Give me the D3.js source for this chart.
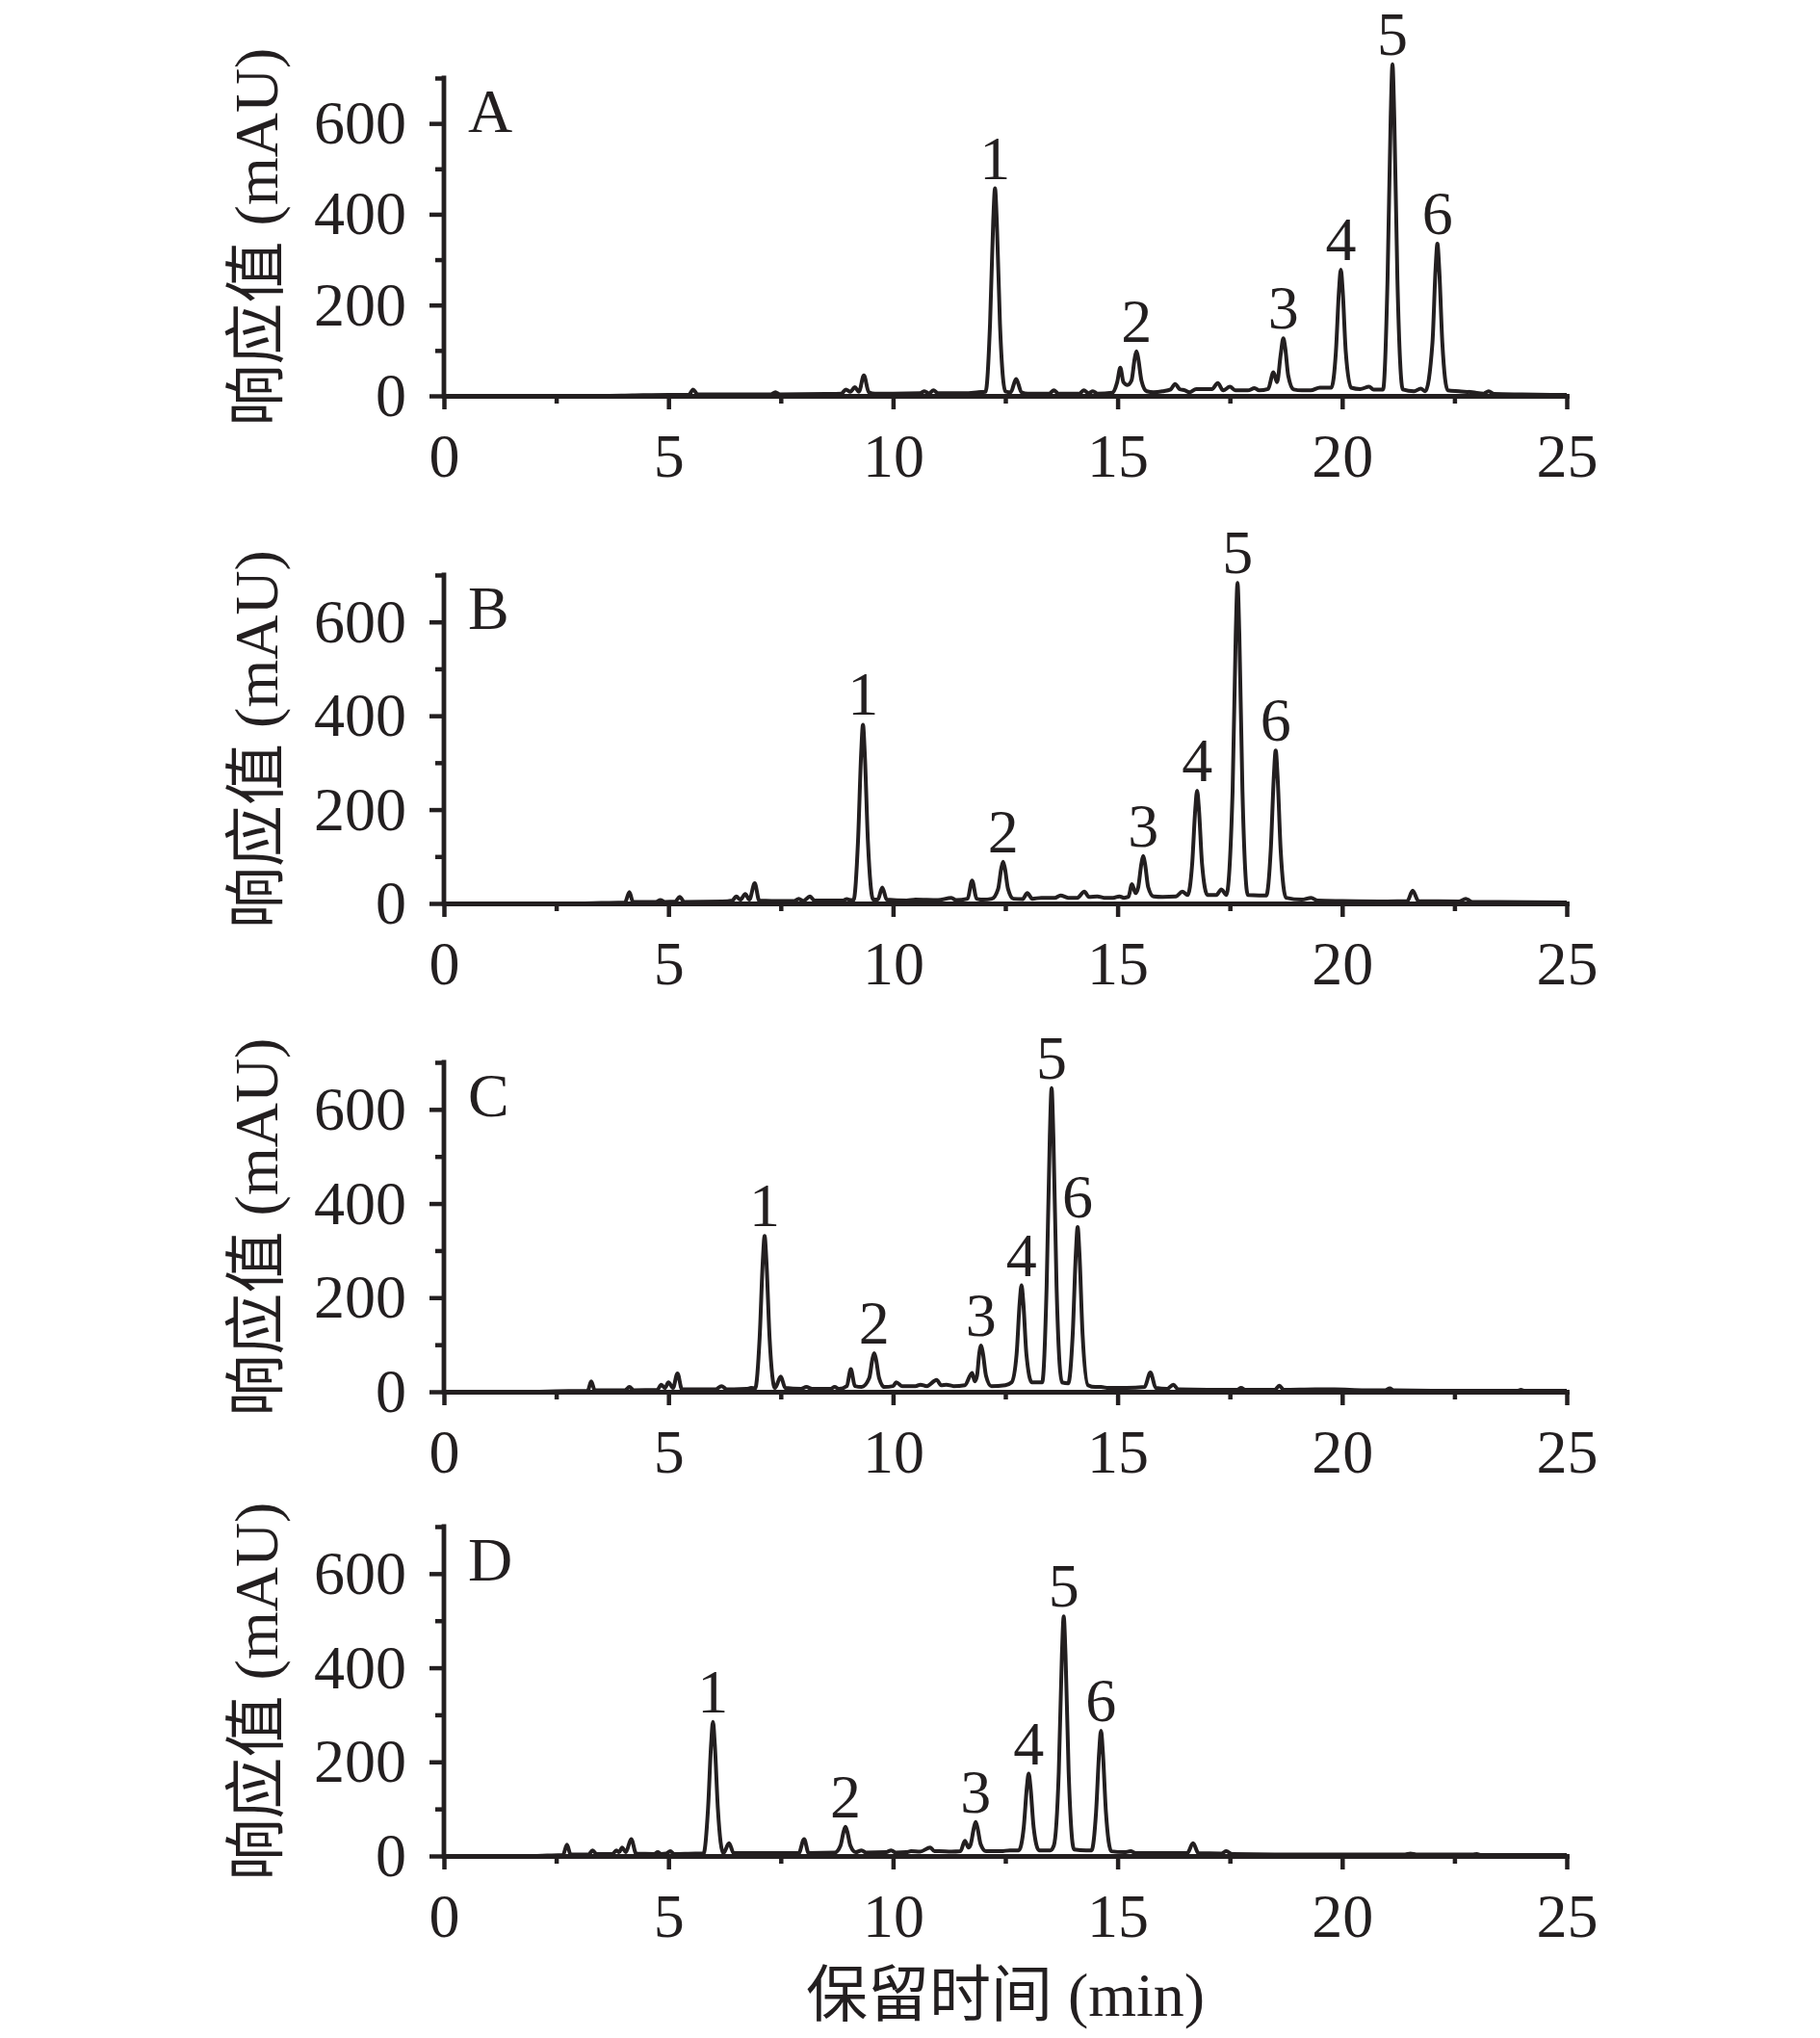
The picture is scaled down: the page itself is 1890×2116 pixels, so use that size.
<!DOCTYPE html>
<html>
<head>
<meta charset="utf-8">
<script src="https://cdn.jsdelivr.net/npm/d3@7"></script>
<style>
  body { margin: 0; background: #fff; }
  svg { display: block; }
</style>
</head>
<body>
<svg id="chart" width="1890" height="2116"></svg>
<script>
// tick values
const xTicks = [0, 5, 10, 15, 20, 25];
const xMinor = [2.5, 7.5, 12.5, 17.5, 22.5];
const yTicks = [0, 200, 400, 600];
const yMinor = [100, 300, 500, 700];

const panelNames = ['A', 'B', 'C', 'D'];

// chromatogram traces, [time (min), response (mAU)]
const traceA = [
  [0, 0], [3.5, 0], [4.2, 1], [5.0, 2], [5.45, 2], [5.55, 14], [5.65, 3], [6.5, 3], [7.28, 3], [7.38, 8], [7.48, 3],
  [8.5, 4], [8.85, 5], [8.95, 14], [9.05, 9], [9.15, 19], [9.24, 9], [9.35, 45], [9.46, 8], [9.6, 5], [10.0, 5],
  [10.6, 6], [10.7, 10], [10.8, 5], [10.9, 12], [11.0, 6], [11.6, 6], [11.9, 8],
  [12.06, 9], [12.16, 160], [12.23, 384], [12.27, 457], [12.31, 384], [12.38, 160], [12.5, 10],
  [12.62, 8], [12.74, 37], [12.86, 8], [13.0, 5], [13.48, 5], [13.58, 12], [13.68, 5], [14.15, 5], [14.25, 12],
  [14.35, 6], [14.45, 10], [14.55, 5], [14.88, 7],
  [14.99, 30], [15.06, 62], [15.13, 30], [15.22, 24],
  [15.31, 34], [15.38, 82], [15.42, 98], [15.46, 82], [15.53, 34], [15.65, 10],
  [15.8, 8], [16.0, 10], [16.18, 14], [16.28, 26], [16.38, 15], [16.5, 12], [16.6, 8], [16.75, 15], [17.1, 15],
  [17.23, 28], [17.35, 12], [17.5, 20], [17.62, 12], [17.9, 12], [18.05, 17], [18.15, 12], [18.35, 15],
  [18.47, 52], [18.55, 30], [18.63, 90], [18.69, 127], [18.73, 107], [18.8, 44], [18.92, 14],
  [19.1, 12], [19.3, 12], [19.5, 18], [19.7, 18],
  [19.76, 18], [19.86, 97], [19.93, 234], [19.97, 278], [20.01, 234], [20.08, 97], [20.2, 18],
  [20.4, 15], [20.6, 20], [20.7, 14],
  [20.91, 14], [21.01, 256], [21.08, 613], [21.12, 730], [21.16, 613], [21.23, 256], [21.35, 14],
  [21.6, 10], [21.75, 16], [21.85, 10],
  [22.01, 117], [22.08, 281], [22.12, 335], [22.16, 281], [22.23, 117], [22.35, 12],
  [22.6, 10], [22.9, 8], [23.15, 5], [23.26, 10], [23.38, 4], [24.0, 3], [25, 2]
];

const traceB = [
  [0, 0], [3.0, 0], [3.5, 1], [4.03, 2], [4.13, 24], [4.21, 3], [4.72, 3], [4.82, 7], [4.92, 3], [5.15, 4],
  [5.25, 14], [5.35, 3], [6.2, 4], [6.42, 6], [6.51, 15], [6.6, 8], [6.71, 20], [6.8, 8], [6.92, 43], [7.02, 6],
  [7.3, 5], [7.8, 5], [7.9, 10], [8.0, 5], [8.15, 15], [8.25, 6], [8.88, 6], [8.97, 9], [9.06, 7],
  [9.12, 7], [9.22, 133], [9.29, 320], [9.33, 381], [9.37, 320], [9.44, 133], [9.56, 8],
  [9.66, 8], [9.76, 34], [9.86, 8], [10.3, 6], [10.5, 8], [11.0, 7], [11.3, 12], [11.4, 7], [11.66, 10],
  [11.76, 49], [11.86, 10], [12.0, 8], [12.2, 10],
  [12.34, 31], [12.41, 75], [12.45, 89], [12.49, 75], [12.56, 31], [12.68, 10],
  [12.88, 9], [12.99, 22], [13.1, 10], [13.3, 12], [13.6, 12], [13.73, 17], [13.9, 12], [14.1, 12], [14.26, 25],
  [14.36, 14], [14.55, 15], [14.7, 12], [14.9, 12], [15.04, 15], [15.14, 12], [15.24, 14], [15.32, 41], [15.4, 22],
  [15.46, 35], [15.53, 85], [15.57, 101], [15.61, 85], [15.68, 35], [15.8, 15],
  [16.0, 14], [16.3, 15], [16.44, 25],
  [16.56, 18], [16.66, 84], [16.73, 202], [16.77, 240], [16.81, 202], [16.88, 84], [17.0, 18],
  [17.2, 18], [17.31, 30], [17.42, 18],
  [17.56, 239], [17.63, 574], [17.67, 683], [17.71, 574], [17.78, 239], [17.9, 18],
  [18.15, 17],
  [18.31, 17], [18.41, 114], [18.48, 274], [18.52, 326], [18.56, 274], [18.63, 114], [18.75, 12],
  [19.1, 8], [19.31, 12], [19.45, 6], [20.0, 5], [21.0, 4], [21.45, 5], [21.57, 27], [21.7, 5], [22.6, 4],
  [22.75, 10], [22.9, 3], [23.5, 3], [25, 2]
];

const traceC = [
  [0, 0], [2.0, 0], [2.5, 1], [3.2, 2], [3.28, 22], [3.36, 3], [4.03, 3], [4.13, 10], [4.23, 3], [4.75, 4],
  [4.84, 15], [4.92, 8], [5.0, 20], [5.1, 8], [5.2, 39], [5.3, 5], [6.05, 5], [6.18, 12], [6.3, 5], [6.74, 6],
  [6.84, 8], [6.93, 7],
  [7.03, 116], [7.1, 278], [7.14, 331], [7.18, 278], [7.25, 116], [7.37, 8],
  [7.5, 32], [7.6, 8], [7.95, 6], [8.07, 10], [8.2, 6], [8.6, 6], [8.7, 10], [8.8, 6], [8.97, 12], [9.06, 48],
  [9.15, 12], [9.3, 10],
  [9.47, 29], [9.54, 69], [9.58, 82], [9.62, 69], [9.69, 29], [9.81, 10],
  [10.0, 12], [10.07, 20], [10.2, 12], [10.5, 12], [10.61, 15], [10.75, 12], [10.97, 25], [11.07, 14],
  [11.19, 15], [11.35, 12], [11.6, 14], [11.76, 40], [11.82, 22],
  [11.87, 34], [11.92, 82], [11.96, 98], [12.0, 82], [12.07, 34], [12.19, 12],
  [12.5, 14], [12.64, 20],
  [12.75, 79], [12.82, 190], [12.86, 226], [12.9, 190], [12.97, 79], [13.09, 20],
  [13.32, 20], [13.42, 226], [13.49, 542], [13.53, 645], [13.57, 542], [13.64, 226], [13.76, 20],
  [13.9, 18], [14.0, 122], [14.07, 294], [14.11, 350], [14.15, 294], [14.22, 122], [14.34, 14],
  [14.5, 10], [14.63, 10], [14.8, 8], [15.2, 8], [15.6, 10], [15.73, 41], [15.85, 8], [16.1, 6], [16.24, 15],
  [16.35, 5], [17.0, 4], [17.65, 4], [17.75, 8], [17.85, 4], [18.5, 4], [18.6, 13], [18.7, 4], [19.4, 5],
  [19.83, 5], [20.5, 3], [20.96, 3], [21.06, 7], [21.15, 3], [22.0, 2], [23.9, 2], [23.98, 4], [24.06, 2], [25, 2]
];

const traceD = [
  [0, 0], [1.8, 0], [2.3, 1], [2.65, 2], [2.74, 24], [2.82, 3], [3.22, 3], [3.31, 12], [3.4, 4], [3.75, 4],
  [3.84, 12], [3.9, 8], [3.97, 18], [4.05, 8], [4.17, 36], [4.28, 5], [4.68, 4], [4.76, 8], [4.84, 4], [4.95, 5],
  [5.04, 10], [5.13, 4], [5.6, 5],
  [5.78, 5], [5.88, 100], [5.95, 239], [5.99, 285], [6.03, 239], [6.1, 100], [6.22, 6],
  [6.35, 27], [6.45, 6], [7.9, 6], [8.02, 36], [8.12, 6], [8.7, 7],
  [8.83, 22], [8.9, 52], [8.94, 62], [8.98, 52], [9.05, 22], [9.17, 8],
  [9.3, 12], [9.4, 7], [9.85, 8], [9.96, 12], [10.06, 7], [10.3, 8], [10.4, 10], [10.6, 9], [10.83, 18],
  [10.92, 10], [11.02, 10], [11.3, 9], [11.5, 10], [11.6, 32], [11.68, 18],
  [11.73, 25], [11.8, 60], [11.84, 72], [11.88, 60], [11.95, 25], [12.07, 10],
  [12.4, 10], [12.6, 12], [12.8, 12],
  [12.91, 61], [12.98, 147], [13.02, 175], [13.06, 147], [13.13, 61], [13.25, 12],
  [13.5, 12], [13.58, 22],
  [13.69, 178], [13.76, 428], [13.8, 509], [13.84, 428], [13.91, 178], [14.03, 14],
  [14.3, 12],
  [14.42, 12], [14.52, 93], [14.59, 223], [14.63, 266], [14.67, 223], [14.74, 93], [14.86, 10],
  [15.15, 8], [15.29, 10], [15.4, 6], [16.55, 6], [16.68, 27], [16.8, 6], [17.3, 5], [17.42, 10], [17.55, 4],
  [18.5, 3], [21.4, 3], [21.52, 5], [21.65, 3], [22.9, 3], [23.0, 4], [23.1, 2], [25, 2]
];

// peak labels: [number, time, apex mAU]
const peaksA = [[1, 12.27, 457], [2, 15.42, 98], [3, 18.69, 127], [4, 19.97, 278], [5, 21.12, 730], [6, 22.12, 335]];
const peaksB = [[1, 9.33, 381], [2, 12.45, 89], [3, 15.57, 101], [4, 16.77, 240], [5, 17.67, 683], [6, 18.52, 326]];
const peaksC = [[1, 7.14, 331], [2, 9.58, 82], [3, 11.96, 98], [4, 12.86, 226], [5, 13.53, 645], [6, 14.11, 350]];
const peaksD = [[1, 5.99, 285], [2, 8.94, 62], [3, 11.84, 72], [4, 13.02, 175], [5, 13.8, 509], [6, 14.63, 266]];

const traces = [traceA, traceB, traceC, traceD];
const peaks = [peaksA, peaksB, peaksC, peaksD];

const yTitle = '响应值 (mAU)';
const xTitle = '保留时间 (min)';

const font = '"Liberation Serif", "Times New Roman", "Noto Sans CJK SC", serif';
const ink = '#231f20';
const fontSize = 64;

// layout: y of zero line and top of axis per panel
const zeros = [411, 938, 1445, 1927];
const tops = [81, 597, 1103, 1585];
const left = 461;
const right = 1627;

const svg = d3.select('#chart');

const x = d3.scaleLinear().domain([0, 25]).range([left, right]);

let drawPanel = (i) => {
  const y = d3.scaleLinear().domain([0, 700]).range([zeros[i], tops[i]]);
  const g = svg.append('g');

  // minor ticks first
  g.append('g')
    .attr('transform', `translate(0,${zeros[i]})`)
    .call(d3.axisBottom(x).tickValues(xMinor).tickSize(8).tickFormat(''))
    .call((a) => a.select('.domain').remove());
  g.append('g')
    .attr('transform', `translate(${left},0)`)
    .call(d3.axisLeft(y).tickValues(yMinor).tickSize(9).tickFormat(''))
    .call((a) => a.select('.domain').remove());

  const xAxis = g.append('g')
    .attr('transform', `translate(0,${zeros[i]})`)
    .call(d3.axisBottom(x).tickValues(xTicks).tickSize(14).tickSizeOuter(0).tickFormat(d3.format('d')));
  xAxis.selectAll('text').attr('y', 84).attr('dy', null);

  const yAxis = g.append('g')
    .attr('transform', `translate(${left},0)`)
    .call(d3.axisLeft(y).tickValues(yTicks).tickSize(15).tickPadding(24).tickSizeOuter(0));
  yAxis.select('.domain').attr('d', `M0,${y(700)}V${y(0)}`);

  g.selectAll('.tick line').attr('stroke', ink).attr('stroke-width', 4.5);
  g.selectAll('.domain').attr('stroke', ink).attr('stroke-width', 4.8).attr('stroke-linecap', 'square');
  g.selectAll('.tick text')
    .attr('fill', ink)
    .style('font-family', font)
    .style('font-size', fontSize + 'px');

  // trace
  const line = d3.line()
    .x((d) => x(d[0]))
    .y((d) => y(d[1]))
    .curve(d3.curveMonotoneX);
  g.append('path')
    .datum(traces[i])
    .attr('d', line)
    .attr('fill', 'none')
    .attr('stroke', ink)
    .attr('stroke-width', 4)
    .attr('stroke-linejoin', 'round');

  // peak numbers
  g.selectAll('.peak')
    .data(peaks[i])
    .enter()
    .append('text')
    .attr('class', 'peak')
    .attr('x', (d) => x(d[1]))
    .attr('y', (d) => y(d[2]) - 10)
    .attr('text-anchor', 'middle')
    .attr('fill', ink)
    .style('font-family', font)
    .style('font-size', fontSize + 'px')
    .text((d) => d[0]);

  // panel letter
  g.append('text')
    .attr('x', left + 25)
    .attr('y', tops[i] + 56)
    .attr('fill', ink)
    .style('font-family', font)
    .style('font-size', fontSize + 'px')
    .text(panelNames[i]);

  // y title
  const cy = (zeros[i] + tops[i]) / 2;
  g.append('text')
    .attr('transform', `translate(288,${cy}) rotate(-90)`)
    .attr('text-anchor', 'middle')
    .attr('fill', ink)
    .style('font-family', font)
    .style('font-size', fontSize + 'px')
    .text(yTitle);
};

for (let i = 0; i < 4; i++) {
  drawPanel(i);
}

svg.append('text')
  .attr('x', (left + right) / 2)
  .attr('y', 2093)
  .attr('text-anchor', 'middle')
  .attr('fill', ink)
  .style('font-family', font)
  .style('font-size', fontSize + 'px')
  .text(xTitle);
</script>
</body>
</html>
